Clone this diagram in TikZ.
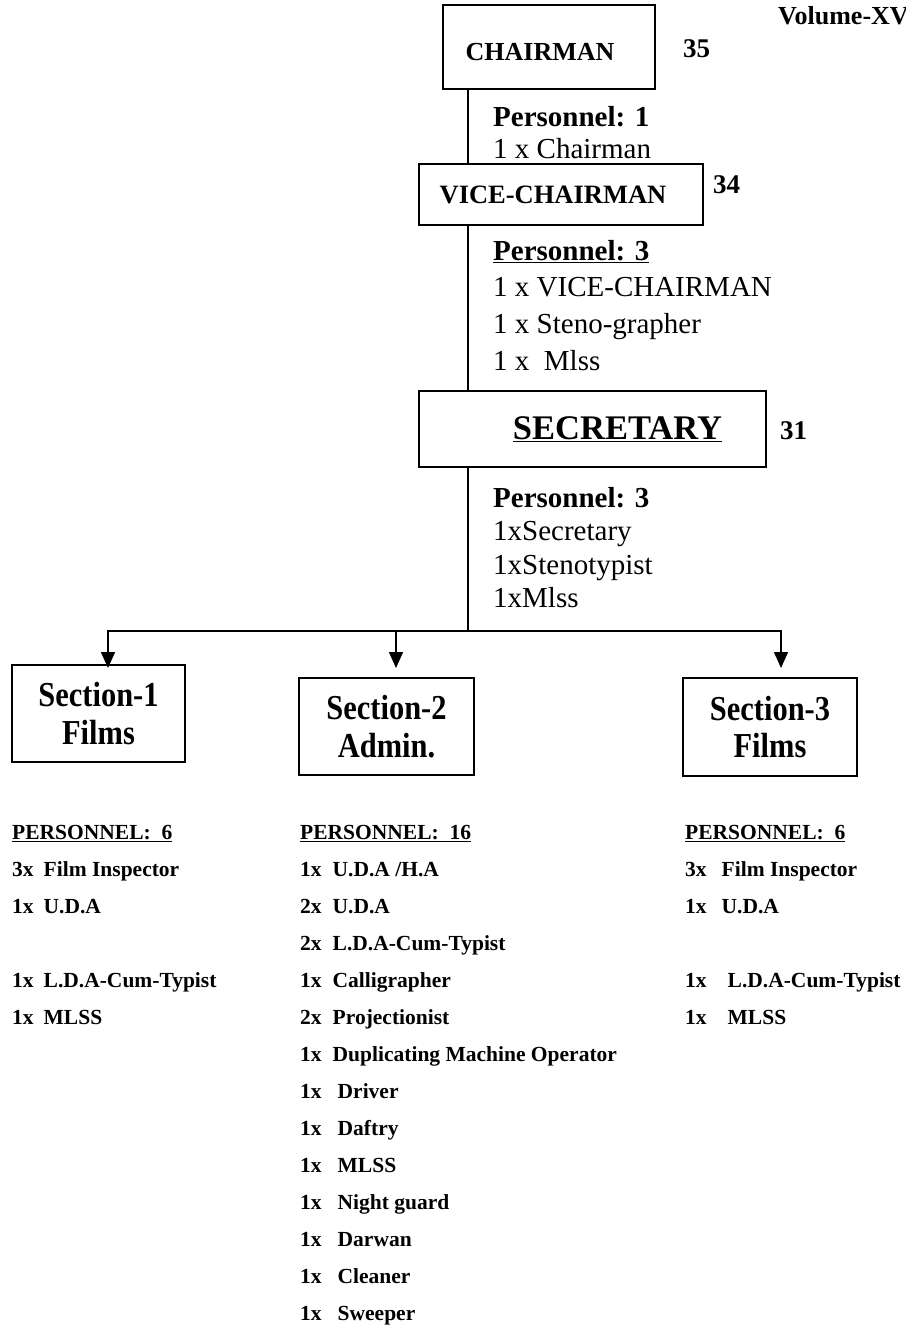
\documentclass[tikz,border=0pt]{standalone}
\usepackage{fontspec}
\setmainfont{Liberation Serif}
\newfontfamily\condfont[FakeStretch=0.87]{Liberation Serif}
\usetikzlibrary{arrows.meta}

\begin{document}
\begin{tikzpicture}[x=1pt,y=-1pt]
\tikzset{boite/.style={draw, line width=1.5pt, inner sep=0pt},
  sectboite/.style={boite, align=center, font=\condfont\bfseries\fontsize{35}{37.5}\selectfont},
  texte/.style={anchor=base west, inner sep=0pt},
  liste/.style={texte, font=\bfseries\fontsize{21.5}{37.05}\selectfont},
  trait/.style={line width=1.5pt},
  fleche/.style={trait, -{Triangle[length=16pt,width=14pt]}}}
\useasboundingbox (0,0) rectangle (905,1325);
\node[texte, font=\bfseries\fontsize{26}{30}\selectfont] (vol) at (778,24) {Volume-XV};
\node[boite, minimum width=212pt, minimum height=84pt, text height=27pt, text depth=0pt, font=\bfseries\fontsize{26}{30}\selectfont] (chair) at (549,47) {CHAIRMAN\hspace*{18pt}};
\node[boite, minimum width=284pt, minimum height=61pt, font=\bfseries\fontsize{26.5}{30}\selectfont] (vice) at (561,194.5) {VICE-CHAIRMAN\hspace*{16pt}};
\node[boite, minimum width=347pt, minimum height=76pt, font=\bfseries\fontsize{34.5}{38}\selectfont] (sec) at (592.5,429) {\hspace*{50pt}\underline{SECRETARY}};
\node[texte, font=\bfseries\fontsize{27}{30}\selectfont] (n35) at (683,57) {35};
\node[texte, font=\bfseries\fontsize{27}{30}\selectfont] (n34) at (713,193) {34};
\node[texte, font=\bfseries\fontsize{27}{30}\selectfont] (n31) at (780,439) {31};
% effectifs
\node[texte, font=\fontsize{29}{32}\selectfont] (pchair) at (493,126) {\begin{tabular}[t]{@{}l@{}}\textbf{Personnel: 1}\\1 x Chairman\end{tabular}};
\node[texte, font=\fontsize{29}{36.7}\selectfont] (pvice) at (493,260) {\begin{tabular}[t]{@{}l@{}}\underline{\textbf{Personnel: 3}}\\1 x VICE-CHAIRMAN\\1 x Steno-grapher\\1 x~~Mlss\end{tabular}};
\node[texte, font=\fontsize{29}{33.5}\selectfont] (psec) at (493,507) {\begin{tabular}[t]{@{}l@{}}\textbf{Personnel: 3}\\1xSecretary\\1xStenotypist\\1xMlss\end{tabular}};
% sections
\node[sectboite, minimum width=173pt, minimum height=97pt] (sect1) at (98.5,713.5) {Section-1\\Films};
\node[sectboite, minimum width=175pt, minimum height=97pt] (sect2) at (386.5,726.5) {Section-2\\Admin.};
\node[sectboite, minimum width=174pt, minimum height=98pt] (sect3) at (770,727) {Section-3\\Films};
\node[liste] (liste1) at (12,839) {\begin{tabular}[t]{@{}l@{\hspace{10pt}}l@{}}
\multicolumn{2}{@{}l@{}}{\underline{PERSONNEL:~~6}}\\
3x & Film Inspector\\
1x & U.D.A\\
 & \\
1x & L.D.A-Cum-Typist\\
1x & MLSS\end{tabular}};
\node[liste] (liste2) at (300,839) {\begin{tabular}[t]{@{}l@{\hspace{11pt}}l@{}}
\multicolumn{2}{@{}l@{}}{\underline{PERSONNEL:~~16}}\\
1x & U.D.A /H.A\\
2x & U.D.A\\
2x & L.D.A-Cum-Typist\\
1x & Calligrapher\\
2x & Projectionist\\
1x & Duplicating Machine Operator\\
1x & \hspace{5pt}Driver\\
1x & \hspace{5pt}Daftry\\
1x & \hspace{5pt}MLSS\\
1x & \hspace{5pt}Night guard\\
1x & \hspace{5pt}Darwan\\
1x & \hspace{5pt}Cleaner\\
1x & \hspace{5pt}Sweeper\end{tabular}};
\node[liste] (liste3) at (685,839) {\begin{tabular}[t]{@{}l@{\hspace{15pt}}l@{}}
\multicolumn{2}{@{}l@{}}{\underline{PERSONNEL:~~6}}\\
3x & Film Inspector\\
1x & U.D.A\\
 & \\
1x & \hspace{6pt}L.D.A-Cum-Typist\\
1x & \hspace{6pt}MLSS\end{tabular}};
% liaisons
\coordinate (axe) at (468,0);
\coordinate (fourche) at (468,631);
\coordinate (f1) at (108,668);
\coordinate (f2) at (396,668);
\coordinate (f3) at (781,668);
\draw[trait] (chair.south -| axe) -- (vice.north -| axe);
\draw[trait] (vice.south -| axe) -- (sec.north -| axe);
\draw[trait] (sec.south -| axe) -- (fourche);
\draw[fleche] (fourche) -| (f1);
\draw[fleche] (fourche) -| (f2);
\draw[fleche] (fourche) -| (f3);
\end{tikzpicture}
\end{document}
